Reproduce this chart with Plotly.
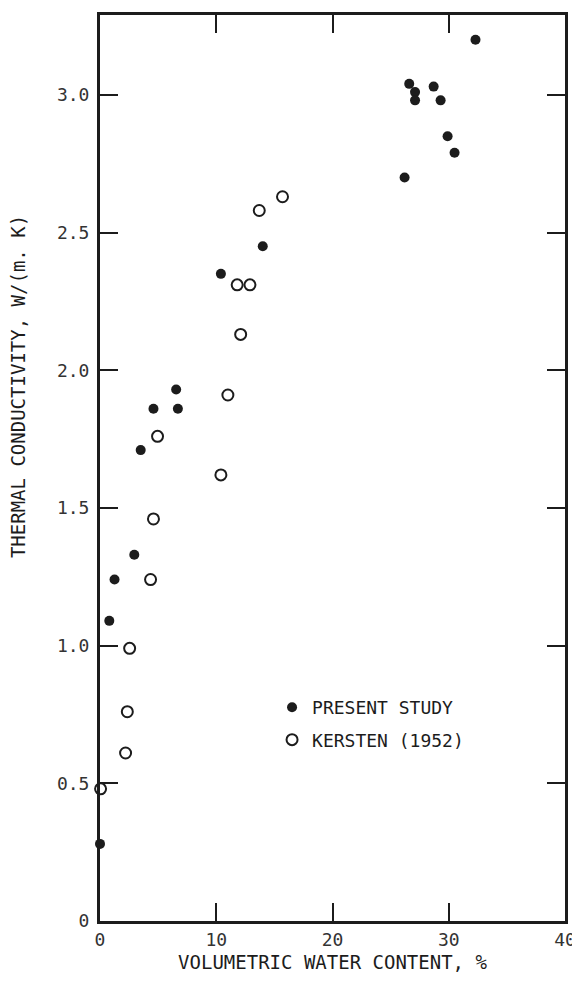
import plotly.graph_objects as go

# Present study (filled circles)
present_x = [0.0, 0.8, 1.25, 2.95, 3.5, 4.6, 6.55, 6.7, 10.4, 14.0,
             26.2, 26.6, 27.1, 27.1, 28.7, 29.3, 29.9, 30.5, 32.3]
present_y = [0.28, 1.09, 1.24, 1.33, 1.71, 1.86, 1.93, 1.86, 2.35, 2.45,
             2.70, 3.04, 3.01, 2.98, 3.03, 2.98, 2.85, 2.79, 3.20]

# Kersten (1952) (open circles)
kersten_x = [0.05, 2.2, 2.35, 2.55, 4.35, 4.6, 4.95, 10.4, 11.0, 11.8,
             12.1, 12.9, 13.7, 15.7]
kersten_y = [0.48, 0.61, 0.76, 0.99, 1.24, 1.46, 1.76, 1.62, 1.91, 2.31,
             2.13, 2.31, 2.58, 2.63]

x_tickvals = [0, 10, 20, 30, 40]
x_ticktext = ["0", "10", "20", "30", "40"]
y_tickvals = [0, 0.5, 1.0, 1.5, 2.0, 2.5, 3.0]
y_ticktext = ["0", "0.5", "1.0", "1.5", "2.0", "2.5", "3.0"]

FONT = "DejaVu Sans Mono"
INK = "#1c1c1c"

fig = go.Figure()
fig.add_trace(go.Scatter(
    x=present_x, y=present_y, mode="markers", name="PRESENT STUDY",
    legendgroup="a",
    marker=dict(symbol="circle", size=10, color=INK, line=dict(width=0)),
    cliponaxis=False,
))
fig.add_trace(go.Scatter(
    x=kersten_x, y=kersten_y, mode="markers", name="KERSTEN (1952)",
    legendgroup="b",
    marker=dict(symbol="circle-open", size=11, color=INK, line=dict(width=2, color=INK)),
    cliponaxis=False,
))

axis_common = dict(
    showline=True, linecolor=INK, linewidth=3, mirror="ticks",
    ticks="inside", ticklen=18, tickwidth=1.5, tickcolor=INK,
    showgrid=False, zeroline=False,
    tickfont=dict(family=FONT, size=18, color="#333"),
)

fig.update_layout(
    width=572, height=967,
    margin=dict(l=92, r=12, t=4, b=53),
    paper_bgcolor="white", plot_bgcolor="white",
    showlegend=True,
    legend=dict(
        x=0.37, y=0.256, xanchor="left", yanchor="top",
        bgcolor="rgba(0,0,0,0)", tracegroupgap=6,
        font=dict(family=FONT, size=18, color=INK),
        itemsizing="trace",
    ),
    xaxis=dict(
        range=[0, 40], tickvals=x_tickvals, ticktext=x_ticktext,
        ticklabeloverflow="allow",
        title=dict(text="VOLUMETRIC WATER CONTENT, %",
                   font=dict(family=FONT, size=19, color=INK), standoff=8),
        **axis_common,
    ),
    yaxis=dict(
        range=[0, 3.29], tickvals=y_tickvals, ticktext=y_ticktext,
        ticklabelstandoff=4,
        **axis_common,
    ),
    annotations=[dict(
        text="THERMAL CONDUCTIVITY, W/(m. K)",
        textangle=-90, xref="paper", yref="paper",
        x=-0.175, y=0.59, xanchor="center", yanchor="middle",
        showarrow=False, font=dict(family=FONT, size=19, color=INK),
    )],
)

fig.write_html("out.html", config={"displayModeBar": False})
